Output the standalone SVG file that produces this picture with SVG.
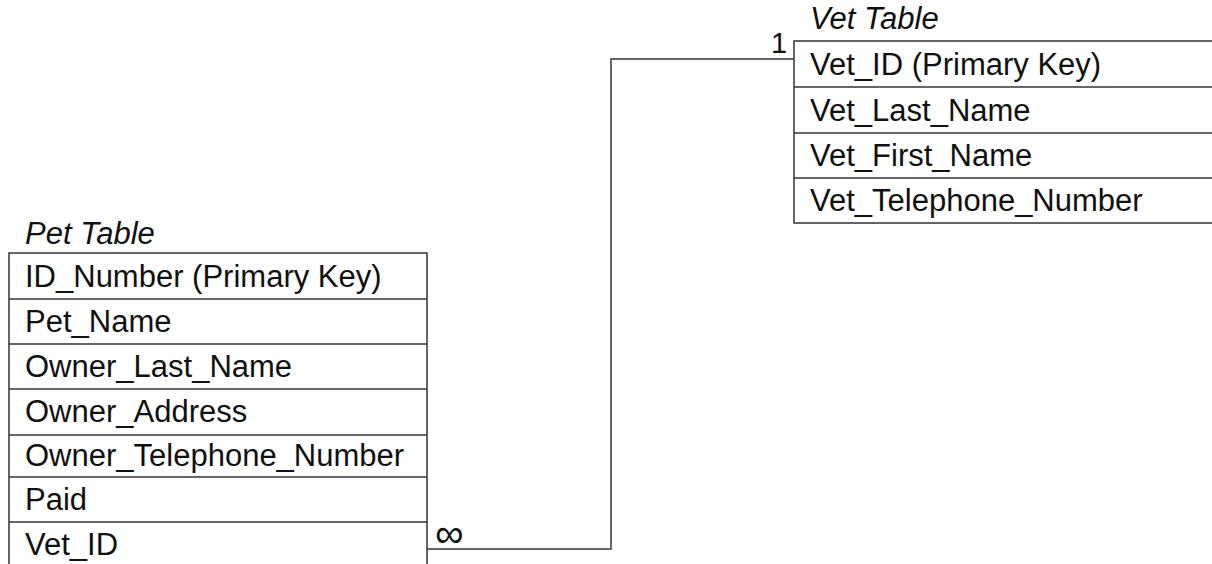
<svg xmlns="http://www.w3.org/2000/svg" width="1212" height="564" viewBox="0 0 1212 564">
<style>
.t{font-family:"Liberation Sans",Arial,sans-serif;font-size:31px;fill:#111}
.ti{font-family:"Liberation Sans",Arial,sans-serif;font-size:31px;font-style:italic;fill:#111}
.b{fill:#fff;stroke:#333;stroke-width:1.5}
.c{fill:none;stroke:#333;stroke-width:1.5}
</style>
<rect width="1212" height="564" fill="#fff"/>
<g id="pet_table">
<text class="ti" x="25" y="244">Pet Table</text>
<rect class="b" x="9" y="253" width="418" height="320"/>
<line class="c" x1="9" y1="299" x2="427" y2="299"/>
<line class="c" x1="9" y1="344" x2="427" y2="344"/>
<line class="c" x1="9" y1="389" x2="427" y2="389"/>
<line class="c" x1="9" y1="435" x2="427" y2="435"/>
<line class="c" x1="9" y1="477" x2="427" y2="477"/>
<line class="c" x1="9" y1="522" x2="427" y2="522"/>
<text class="t" x="25" y="287">ID_Number (Primary Key)</text>
<text class="t" x="25" y="332">Pet_Name</text>
<text class="t" x="25" y="377">Owner_Last_Name</text>
<text class="t" x="25" y="422">Owner_Address</text>
<text class="t" x="25" y="466">Owner_Telephone_Number</text>
<text class="t" x="25" y="510">Paid</text>
<text class="t" x="25" y="555">Vet_ID</text>
</g>
<g id="vet_table">
<text class="ti" x="810" y="29">Vet Table</text>
<rect class="b" x="794" y="41" width="430" height="182"/>
<line class="c" x1="794" y1="87" x2="1212" y2="87"/>
<line class="c" x1="794" y1="133" x2="1212" y2="133"/>
<line class="c" x1="794" y1="178" x2="1212" y2="178"/>
<text class="t" x="810" y="75">Vet_ID (Primary Key)</text>
<text class="t" x="810" y="121">Vet_Last_Name</text>
<text class="t" x="810" y="166">Vet_First_Name</text>
<text class="t" x="810" y="211">Vet_Telephone_Number</text>
</g>
<g id="connectors">
<polyline class="c" points="427,549 611,549 611,59 794,59"/>
<text class="t" x="771" y="53" style="font-size:29px">1</text>
<text class="t" x="435" y="547" style="font-size:40px">∞</text>
</g>
</svg>
